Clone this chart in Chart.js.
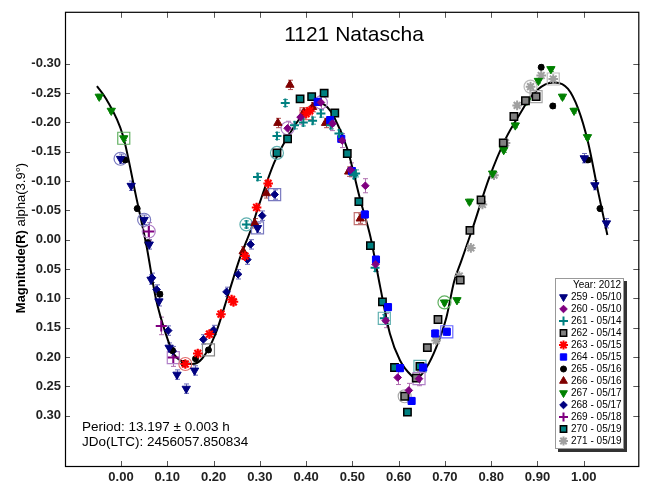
<!DOCTYPE html>
<html><head><meta charset="utf-8">
<script src="https://cdn.jsdelivr.net/npm/chart.js@4/dist/chart.umd.min.js"></script>
<style>html,body{margin:0;padding:0;background:#fff}#wrap{width:649px;height:487px}</style>
</head><body><div id="wrap"><canvas id="c" width="649" height="487"></canvas></div>
<script>
const FONT = "'Liberation Sans', Arial, sans-serif";
const chartTitle = '1121 Natascha';
const yTitleBold = 'Magnitude(R)';
const yTitleRest = ' alpha(3.9°)';
const infoLines = ['Period: 13.197 ± 0.003 h', 'JDo(LTC): 2456057.850834'];
const legendHeader = 'Year: 2012';
const xTicks = [0.00, 0.10, 0.20, 0.30, 0.40, 0.50, 0.60, 0.70, 0.80, 0.90, 1.00];
const yTicks = [-0.30, -0.25, -0.20, -0.15, -0.10, -0.05, 0.00, 0.05, 0.10, 0.15, 0.20, 0.25, 0.30];

const seriesNames = ['259 - 05/10','260 - 05/10','261 - 05/14','262 - 05/14','263 - 05/15','264 - 05/15',
  '265 - 05/16','266 - 05/16','267 - 05/17','268 - 05/17','269 - 05/18','270 - 05/19','271 - 05/19'];

// [phase, magnitude]
const s259 = [[-0.001,-0.138],[0.022,-0.092],[0.050,-0.034],[0.061,0.008],[0.065,0.068],[0.082,0.105],[0.104,0.184],[0.121,0.230],[0.141,0.254],[0.159,0.223],[0.295,-0.020],[1.001,-0.139],[1.024,-0.093],[1.049,-0.028]];
const s260 = [[0.360,-0.190],[0.388,-0.209],[0.432,-0.234],[0.457,-0.198],[0.478,-0.169],[0.496,-0.119],[0.528,-0.092],[0.550,0.042],[0.572,0.138],[0.598,0.235],[0.622,0.257],[0.644,0.237]];
const s261 = [[0.271,-0.026],[0.295,-0.107],[0.337,-0.177],[0.355,-0.233],[0.375,-0.195],[0.394,-0.200],[0.414,-0.203],[0.432,-0.215],[0.453,-0.195],[0.471,-0.181],[0.503,-0.110],[0.507,-0.113],[0.549,0.048],[0.569,0.134]];
const s262 = [[0.613,0.267],[0.638,0.236],[0.662,0.184],[0.685,0.136],[0.733,0.069],[0.754,-0.016],[0.778,-0.068],[0.826,-0.165],[0.849,-0.210],[0.874,-0.237],[0.897,-0.244]];
const s263 = [[0.139,0.212],[0.166,0.194],[0.191,0.161],[0.216,0.127],[0.239,0.102],[0.243,0.106],[0.268,0.028],[0.293,-0.055],[0.318,-0.096],[0.400,-0.215],[0.408,-0.220]];
const s264 = [[0.425,-0.235],[0.452,-0.204],[0.476,-0.172],[0.499,-0.117],[0.527,-0.043],[0.551,0.034],[0.577,0.115],[0.603,0.219],[0.628,0.275],[0.653,0.218],[0.679,0.160],[0.704,0.157]];
const s265 = [[0.009,-0.136],[0.035,-0.053],[0.058,0.005],[0.084,0.093],[0.111,0.189],[0.136,0.211],[0.161,0.203],[0.189,0.188],[0.908,-0.294],[0.933,-0.228],[1.009,-0.136],[1.035,-0.053]];
const s266 = [[0.264,0.020],[0.289,-0.028],[0.314,-0.079],[0.339,-0.199],[0.365,-0.264],[0.395,-0.217],[0.414,-0.226],[0.442,-0.199],[0.492,-0.116],[0.517,-0.036]];
const s267 = [[-0.047,-0.244],[-0.021,-0.220],[0.006,-0.173],[0.699,0.107],[0.726,0.103],[0.753,-0.065],[0.803,-0.113],[0.827,-0.153],[0.852,-0.195],[0.877,-0.237],[0.902,-0.271],[0.929,-0.291],[0.954,-0.244],[0.979,-0.220],[1.008,-0.175]];
const s268 = [[0.067,0.065],[0.077,0.085],[0.102,0.155],[0.112,0.190],[0.178,0.170],[0.200,0.154],[0.228,0.089],[0.253,0.059],[0.273,0.034],[0.280,0.008],[0.305,-0.041],[0.332,-0.077]];
const s269 = [[0.060,-0.014],[0.087,0.147],[0.113,0.201]];
const s270 = [[0.337,-0.148],[0.360,-0.172],[0.387,-0.240],[0.412,-0.244],[0.439,-0.250],[0.462,-0.216],[0.489,-0.147],[0.514,-0.065],[0.539,0.010],[0.565,0.106],[0.591,0.218],[0.619,0.294],[0.646,0.216]];
const s271 = [[0.681,0.172],[0.731,0.062],[0.756,0.014],[0.781,-0.060],[0.806,-0.110],[0.831,-0.165],[0.856,-0.229],[0.885,-0.261],[0.908,-0.280],[0.934,-0.274]];

// error (± mag) per series
const seriesErrors = [0.008,0.012,0.006,0.004,0.006,0.006,0.004,0.008,0.004,0.008,0.015,0.004,0.004];

// highlighted points: [series index, point index, shape]
const highlights = [[0,0,'circle'],[0,2,'circle'],[0,10,'rect'],[1,0,'circle'],[1,2,'circle'],[1,11,'rect'],
  [2,0,'circle'],[2,13,'rect'],[3,0,'circle'],[3,10,'rect'],[4,0,'circle'],[4,9,'rect'],[5,11,'rect'],
  [6,7,'rect'],[7,9,'rect'],[8,2,'rect'],[8,3,'circle'],[9,11,'rect'],[10,0,'circle'],[10,2,'rect'],
  [11,0,'circle'],[11,12,'rect'],[12,7,'circle'],[12,9,'rect']];

// Fourier fit curve
const curvePhase = [-0.052,-0.032,0.004,0.032,0.055,0.075,0.097,0.114,0.136,0.154,0.175,0.204,0.232,0.257,0.282,0.296,0.332,0.367,0.403,0.425,0.446,0.460,0.489,0.517,0.539,0.560,0.581,0.603,0.628,0.638,0.660,0.681,0.703,0.720,0.735,0.760,0.795,0.831,0.860,0.888,0.917,0.938,0.966,0.988,1.009,1.031,1.051];
const curveMag   = [-0.262,-0.240,-0.178,-0.076,0.010,0.099,0.161,0.195,0.209,0.212,0.203,0.161,0.093,0.031,-0.020,-0.054,-0.133,-0.184,-0.223,-0.234,-0.226,-0.210,-0.155,-0.068,-0.005,0.080,0.160,0.206,0.232,0.237,0.218,0.184,0.133,0.071,0.037,-0.020,-0.104,-0.172,-0.212,-0.246,-0.265,-0.268,-0.257,-0.223,-0.167,-0.082,-0.008];

const seriesData = [s259,s260,s261,s262,s263,s264,s265,s266,s267,s268,s269,s270,s271];

const styles = [
  {ps:'triangle', rot:180, r:4.8, fill:'#000080', line:'#000080', bw:1},
  {ps:'rectRot', rot:0, r:3.8, fill:'#800080', line:'#800080', bw:1},
  {ps:'cross', rot:0, r:4.5, fill:'#008080', line:'#008080', bw:2},
  {ps:'rect', rot:0, r:5.2, fill:'#808080', line:'#000000', bw:1.5},
  {ps:'star', rot:0, r:4.8, fill:'#ff0000', line:'#ff0000', bw:2},
  {ps:'rect', rot:0, r:5, fill:'#0000ff', line:'#0000ff', bw:1},
  {ps:'circle', rot:0, r:3, fill:'#000000', line:'#000000', bw:1},
  {ps:'triangle', rot:0, r:4.8, fill:'#800000', line:'#800000', bw:1},
  {ps:'triangle', rot:180, r:4.8, fill:'#008000', line:'#008000', bw:1},
  {ps:'rectRot', rot:0, r:3.8, fill:'#000080', line:'#000080', bw:1},
  {ps:'cross', rot:0, r:5.5, fill:'#800080', line:'#800080', bw:2},
  {ps:'rect', rot:0, r:5.2, fill:'#008080', line:'#000000', bw:1.5},
  {ps:'star', rot:0, r:4.8, fill:'#a0a0a0', line:'#a0a0a0', bw:2}
];
const errColors = ['#6a6ab8','#b070b0','#40a0a0','#909090','#ff7070','#6060ff','#555555','#b05050','#50a050','#6a6ab8','#b070b0','#40a0a0','#b0b0b0'];
const hlColors = ['#7a7ac0','#b080c8','#60b0b0','#a8a8a8','#e07070','#6a6aff','#888888','#c07070','#60b060','#7a7ac0','#b080c8','#60b0b0','#bbbbbb'];

const datasets = [];
datasets.push({
  label:'fit', data: curvePhase.map((p,i)=>({x:p, y:curveMag[i]})),
  showLine:true, borderColor:'#000', borderWidth:2, pointRadius:0, cubicInterpolationMode:'monotone', fill:false, order:2
});
seriesData.forEach((arr, si)=>{
  const st = styles[si];
  datasets.push({
    label: seriesNames[si], data: arr.map(p=>({x:p[0], y:p[1]})),
    pointStyle: st.ps, pointRotation: st.rot, pointRadius: st.r, pointHoverRadius: st.r,
    backgroundColor: st.fill, borderColor: st.line, borderWidth: st.bw, showLine:false, order:0
  });
});
highlights.forEach(h=>{
  const p = seriesData[h[0]][h[1]];
  datasets.push({
    label:'hl', data:[{x:p[0], y:p[1]}], pointStyle:h[2], pointRadius: h[2]==='circle'?6.5:8.5,
    backgroundColor:'rgba(0,0,0,0)', borderColor: hlColors[h[0]], borderWidth:1.2, showLine:false, order:1
  });
});

function line(ctx,x1,y1,x2,y2){ctx.beginPath();ctx.moveTo(x1,y1);ctx.lineTo(x2,y2);ctx.stroke();}

const deco = {
  id:'deco',
  beforeDatasetsDraw(chart){
    const {ctx, scales:{x,y}} = chart;
    ctx.save();
    ctx.lineWidth = 1;
    seriesData.forEach((arr, si)=>{
      const e = seriesErrors[si];
      ctx.strokeStyle = errColors[si];
      arr.forEach(p=>{
        const px = Math.round(x.getPixelForValue(p[0]))+0.5;
        const y1 = y.getPixelForValue(p[1]-e), y2 = y.getPixelForValue(p[1]+e);
        line(ctx,px,y1,px,y2);
        line(ctx,px-2.5,y1,px+2.5,y1);
        line(ctx,px-2.5,y2,px+2.5,y2);
      });
    });
    ctx.restore();
  },
  afterDraw(chart){
    const {ctx, chartArea:a, scales:{x,y}} = chart;
    ctx.save();
    // ticks (inside)
    ctx.strokeStyle = '#555'; ctx.lineWidth = 1;
    xTicks.forEach(v=>{
      const px = Math.round(x.getPixelForValue(v))+0.5;
      line(ctx,px,a.bottom,px,a.bottom-6);
      line(ctx,px,a.top,px,a.top+6);
    });
    yTicks.forEach(v=>{
      const py = Math.round(y.getPixelForValue(v))+0.5;
      line(ctx,a.left,py,a.left+5,py);
      line(ctx,a.right,py,a.right-6,py);
    });
    // frame
    ctx.strokeStyle = '#000'; ctx.lineWidth = 1.2;
    ctx.strokeRect(a.left+0.5, a.top+0.5, a.right-a.left-1, a.bottom-a.top-1);
    // title
    ctx.fillStyle = '#000';
    ctx.font = '21px ' + FONT;
    ctx.textAlign = 'center'; ctx.textBaseline = 'middle';
    ctx.fillText(chartTitle, 354, 35);
    // y title (mixed weights)
    ctx.save();
    ctx.translate(21, 238);
    ctx.rotate(-Math.PI/2);
    ctx.textBaseline = 'middle'; ctx.textAlign = 'left';
    ctx.font = 'bold 13px ' + FONT;
    const w1 = ctx.measureText(yTitleBold).width;
    ctx.font = '13px ' + FONT;
    const w2 = ctx.measureText(yTitleRest).width;
    const start = -(w1+w2)/2;
    ctx.font = 'bold 13px ' + FONT;
    ctx.fillText(yTitleBold, start, 0);
    ctx.font = '13px ' + FONT;
    ctx.fillText(yTitleRest, start + w1, 0);
    ctx.restore();
    // info text
    ctx.font = '13.5px ' + FONT;
    ctx.textAlign = 'left'; ctx.textBaseline = 'middle'; ctx.fillStyle = '#000';
    ctx.fillText(infoLines[0], 82, 427);
    ctx.fillText(infoLines[1], 82, 442);
    // legend
    const lx = 555, ly = 278, lw = 69, lh = 171;
    ctx.fillStyle = '#333'; ctx.fillRect(lx+3, ly+3, lw, lh);
    ctx.fillStyle = '#fff'; ctx.fillRect(lx, ly, lw, lh);
    ctx.strokeStyle = '#999'; ctx.lineWidth = 1; ctx.strokeRect(lx+0.5, ly+0.5, lw-1, lh-1);
    ctx.fillStyle = '#000';
    ctx.font = '10px ' + FONT;
    ctx.textAlign = 'right';
    ctx.fillText(legendHeader, 621, 285);
    ctx.textAlign = 'left';
    seriesNames.forEach((n, i)=>{
      const yy = 297 + i*12;
      const st = styles[i];
      ctx.fillStyle = st.fill; ctx.strokeStyle = st.line; ctx.lineWidth = st.bw;
      Chart.helpers.drawPoint(ctx, {pointStyle: st.ps, rotation: st.rot, radius: Math.min(st.r, 4.5), borderWidth: st.bw}, 563.5, yy);
      ctx.fillStyle = '#000';
      ctx.fillText(n, 571, yy);
    });
    ctx.restore();
  }
};

new Chart(document.getElementById('c'), {
  type:'scatter',
  data:{datasets},
  options:{
    responsive:false, animation:false, events:[],
    layout:{padding:{left:0, top:9, right:4, bottom:0}},
    plugins:{legend:{display:false}, tooltip:{enabled:false}, title:{display:false}},
    scales:{
      x:{type:'linear', min:-0.121, max:1.12,
         grid:{display:false, drawTicks:false}, border:{display:false},
         afterBuildTicks: s=>{ s.ticks = xTicks.map(v=>({value:v})); },
         afterFit: s=>{ s.height = 20; },
         ticks:{padding:3, autoSkip:false, maxRotation:0, color:'#222',
           font:{family:FONT, size:13, weight:'bold'}, callback:v=>Number(v).toFixed(2)}},
      y:{type:'linear', reverse:true, min:-0.3886, max:0.3876,
         grid:{display:false, drawTicks:false}, border:{display:false},
         afterBuildTicks: s=>{ s.ticks = yTicks.map(v=>({value:v})); },
         afterFit: s=>{ s.width = 65; },
         ticks:{padding:4, autoSkip:false, color:'#222',
           font:{family:FONT, size:13, weight:'bold'}, callback:v=>Number(v).toFixed(2)}}
    }
  },
  plugins:[deco]
});
</script>
</body></html>
